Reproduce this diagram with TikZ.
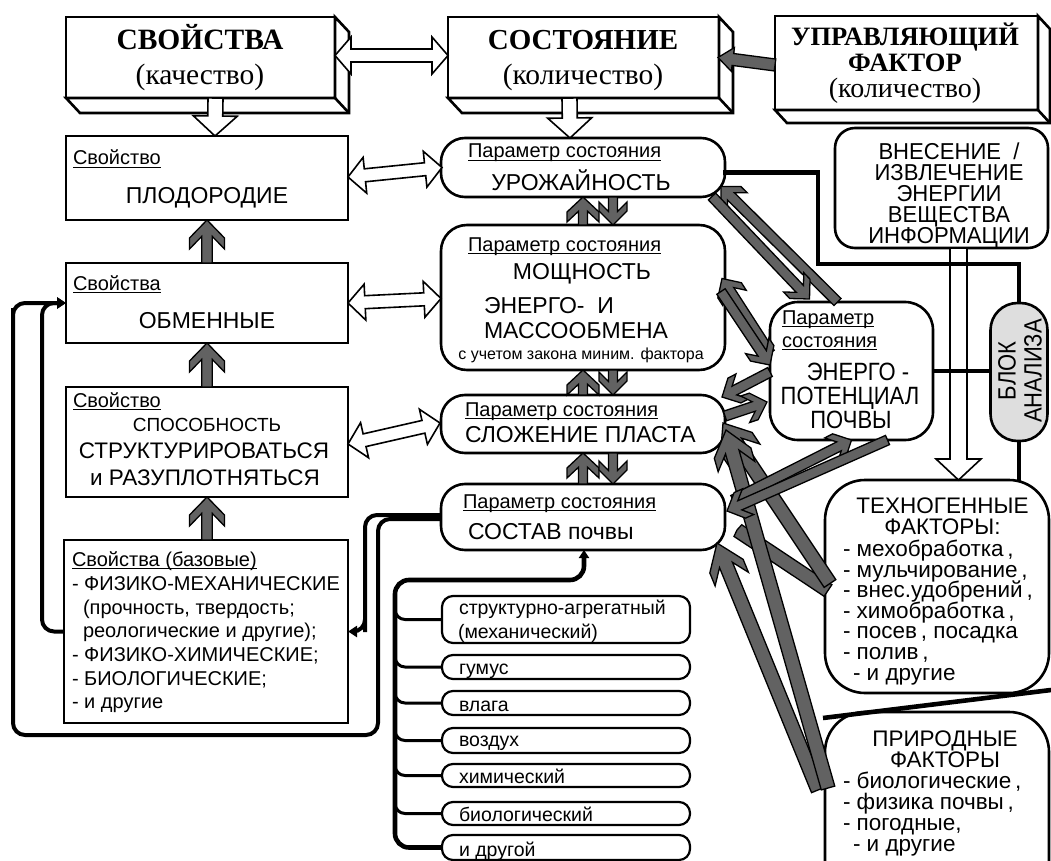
\documentclass[tikz,border=0pt]{standalone}
\usepackage{fontspec}
\setmainfont{Liberation Sans}
\newfontfamily\tnr{Liberation Serif}
\newfontfamily\nsans[FakeStretch=0.88]{Liberation Sans}
\newfontfamily\vsans[FakeStretch=0.96]{Liberation Sans}
\usetikzlibrary{calc,arrows.meta}
\definecolor{ag}{RGB}{98,98,98}
\newcommand\ulin[1]{\setbox0\hbox{#1}\leavevmode\rlap{\rule[-3pt]{\wd0}{1.3pt}}\box0}
\newcommand\fsz[2]{\fontsize{#1}{#2}\selectfont}
% centred lines set at a fixed baseline distance (#1); the baseline is that of the last line
\newcommand\tightstack[2]{\vbox{\baselineskip=#1\relax\lineskiplimit=-100pt\relax\lineskip=0pt\relax
  \halign{\hfil##\hfil\cr #2\cr}}}

\tikzset{
  every node/.style={inner sep=0pt, outer sep=0pt},
  boxframe/.style={draw, line width=2.6pt, fill=white},
  rbox/.style={boxframe, rounded corners=#1},
  rbox/.default=24pt,
  bev/.style={draw, line width=2.6pt, fill=white, line join=miter},
  connline/.style={draw, line width=4.6pt},
  loopline/.style={draw, line width=4pt, rounded corners=12pt},
  treeline/.style={draw, line width=4.6pt, rounded corners=14pt},
  branchline/.style={draw, line width=3pt, rounded corners=10pt},
  harr/.style={fill=white, draw=black, line width=1.6pt, line join=miter},
  garr/.style={fill=ag, draw=black, line width=1.3pt, line join=miter},
  ageom/.code n args={4}{\def\aSW{#1}\def\aHW{#2}\def\aHL{#3}\def\aD{#4}},
  % arrow with an open chevron head
  chevarrow/.style={to path={
    let \p1=(\tikztostart), \p2=(\tikztotarget),
        \n1={atan2(\y2-\y1,\x2-\x1)}, \n2={veclen(\x2-\x1,\y2-\y1)},
        \n3={\n2-\aHL}, \n4={\n2-\aHL-\aD}, \n5={\n2-\aD-\aHL*\aSW/\aHW}
    in ($(\p1)+({\n1+90}:\aSW pt)$)
    -- ($(\p1)+(\n1:\n5)+({\n1+90}:\aSW pt)$)
    -- ($(\p1)+(\n1:\n4)+({\n1+90}:\aHW pt)$)
    -- ($(\p1)+(\n1:\n3)+({\n1+90}:\aHW pt)$)
    -- (\p2)
    -- ($(\p1)+(\n1:\n3)+({\n1-90}:\aHW pt)$)
    -- ($(\p1)+(\n1:\n4)+({\n1-90}:\aHW pt)$)
    -- ($(\p1)+(\n1:\n5)+({\n1-90}:\aSW pt)$)
    -- ($(\p1)+({\n1-90}:\aSW pt)$) -- cycle}},
  % block arrow with a triangular head
  blockarrow/.style={to path={
    let \p1=(\tikztostart), \p2=(\tikztotarget),
        \n1={atan2(\y2-\y1,\x2-\x1)}, \n2={veclen(\x2-\x1,\y2-\y1)},
        \n3={\n2-\aHL}
    in ($(\p1)+({\n1+90}:\aSW pt)$)
    -- ($(\p1)+(\n1:\n3)+({\n1+90}:\aSW pt)$)
    -- ($(\p1)+(\n1:\n3)+({\n1+90}:\aHW pt)$)
    -- (\p2)
    -- ($(\p1)+(\n1:\n3)+({\n1-90}:\aHW pt)$)
    -- ($(\p1)+(\n1:\n3)+({\n1-90}:\aSW pt)$)
    -- ($(\p1)+({\n1-90}:\aSW pt)$) -- cycle}},
  % two-headed block arrow
  dblarrow/.style={to path={
    let \p1=(\tikztostart), \p2=(\tikztotarget),
        \n1={atan2(\y2-\y1,\x2-\x1)}, \n2={veclen(\x2-\x1,\y2-\y1)},
        \n3={\n2-\aHL}
    in ($(\p1)+(\n1:\aHL pt)+({\n1+90}:\aSW pt)$)
    -- ($(\p1)+(\n1:\n3)+({\n1+90}:\aSW pt)$)
    -- ($(\p1)+(\n1:\n3)+({\n1+90}:\aHW pt)$)
    -- (\p2)
    -- ($(\p1)+(\n1:\n3)+({\n1-90}:\aHW pt)$)
    -- ($(\p1)+(\n1:\n3)+({\n1-90}:\aSW pt)$)
    -- ($(\p1)+(\n1:\aHL pt)+({\n1-90}:\aSW pt)$)
    -- ($(\p1)+(\n1:\aHL pt)+({\n1-90}:\aHW pt)$)
    -- (\p1)
    -- ($(\p1)+(\n1:\aHL pt)+({\n1+90}:\aHW pt)$) -- cycle}},
  lbl/.style={font=\fsz{20}{24}},
  big/.style={font=\fsz{23}{26}},
  side/.style={font=\nsans\fsz{25}{26}},
  fac/.style={font=\fsz{22.5}{24}},
  small/.style={font=\fsz{19.5}{22}},
}

\begin{document}
\begin{tikzpicture}[x=1pt,y=-1pt]
\clip (0,0) rectangle (1051,861);
\fill[white] (0,0) rectangle (1051,861);

% ---------- top row: bevelled boxes ----------
\node[boxframe, minimum width=269pt, minimum height=81pt] (sv) at (200.5,57.5) {};
\node[boxframe, minimum width=271pt, minimum height=81pt] (so) at (583.5,57.5) {};
\node[boxframe, minimum width=263pt, minimum height=94pt] (uf) at (906.5,63) {};
\foreach \b/\dx/\dy in {sv/14/15, so/14/15, uf/12/13}{
  \draw[bev] (\b.north east) -- ++(\dx,\dy) -- ($(\b.south east)+(\dx,\dy)$)
     -- ($(\b.south west)+(\dx,\dy)$) -- (\b.south west) -- (\b.south east) -- cycle;
  \draw[bev] (\b.south east) -- ++(\dx,\dy);
}
\node[anchor=base, font=\tnr\bfseries\fsz{29.5}{30}] (svA) at (200,50) {СВОЙСТВА};
\node[anchor=base, font=\tnr\fsz{29.5}{30}] (svB) at (200,85) {(качество)};
\node[anchor=base, font=\tnr\bfseries\fsz{29}{30}] (soA) at (583,50) {СОСТОЯНИЕ};
\node[anchor=base, font=\tnr\fsz{29.5}{30}] (soB) at (583,85) {(количество)};
\node[anchor=base, font=\tnr\fsz{28}{30}] (ufT) at (905,98)
  {\tightstack{26pt}{{\bfseries\fontsize{26.5}{28}\selectfont УПРАВЛЯЮЩИЙ}\cr
   {\bfseries\fontsize{26.5}{28}\selectfont ФАКТОР}\cr (количество)}};

% ---------- left column ----------
\node[boxframe, minimum width=282pt, minimum height=84pt] (pl) at (207,178) {};
\node[boxframe, minimum width=282pt, minimum height=80pt] (ob) at (207,303) {};
\node[boxframe, minimum width=282pt, minimum height=110pt] (sp) at (207,442) {};
\node[boxframe, minimum width=284pt, minimum height=183pt] (bz) at (206,631.5) {};

\node[lbl, anchor=base west] (plL) at (73,165) {\ulin{Свойство}};
\node[big, anchor=base] (plT) at (207,203) {ПЛОДОРОДИЕ};
\node[lbl, anchor=base west] (obL) at (73,290) {\ulin{Свойства}};
\node[big, anchor=base] (obT) at (207,328) {ОБМЕННЫЕ};
\node[lbl, anchor=base west] (spL) at (73,407) {\ulin{Свойство}};
\node[anchor=base, font=\fsz{19}{22}] (spT1) at (207,431) {СПОСОБНОСТЬ};
\node[anchor=base, font=\fsz{22.5}{26}] (spT2) at (204,458) {СТРУКТУРИРОВАТЬСЯ};
\node[anchor=base, font=\fsz{22.5}{26}] (spT3) at (205,485) {и РАЗУПЛОТНЯТЬСЯ};

\node[lbl, anchor=base west] (bz1) at (72,566) {\ulin{Свойства (базовые)}};
\node[lbl, anchor=base west] (bz2) at (72,590) {- ФИЗИКО-МЕХАНИЧЕСКИЕ};
\node[lbl, anchor=base west] (bz3) at (83,614) {(прочность, твердость;};
\node[lbl, anchor=base west] (bz4) at (83,637.5) {реологические и другие);};
\node[lbl, anchor=base west] (bz5) at (72,661) {- ФИЗИКО-ХИМИЧЕСКИЕ;};
\node[lbl, anchor=base west] (bz6) at (72,685) {- БИОЛОГИЧЕСКИЕ;};
\node[lbl, anchor=base west] (bz7) at (72,708.5) {- и другие};

% ---------- centre column ----------
\node[rbox=24pt, minimum width=284pt, minimum height=59pt] (uro) at (583,167.5) {};
\node[rbox=26pt, minimum width=284pt, minimum height=145pt] (mo) at (583,297.5) {};
\node[rbox=24pt, minimum width=284pt, minimum height=58pt] (sl) at (583,424) {};
\node[rbox=24pt, minimum width=284pt, minimum height=66pt] (st) at (583,517) {};

\node[lbl, anchor=base west] (uroL) at (468,158) {\ulin{Параметр состояния}};
\node[big, anchor=base] (uroT) at (581,190) {УРОЖАЙНОСТЬ};
\node[lbl, anchor=base west] (moL) at (468,251) {\ulin{Параметр состояния}};
\node[big, anchor=base] (moT1) at (582,279) {МОЩНОСТЬ};
\node[big, anchor=base west] (moT2) at (484,313) {ЭНЕРГО-~~И};
\node[big, anchor=base west] (moT3) at (484,338) {МАССООБМЕНА};
\node[anchor=base, font=\fsz{16}{18}] (moT4) at (581,359) {с учетом закона миним. фактора};
\node[lbl, anchor=base west] (slL) at (465,416) {\ulin{Параметр состояния}};
\node[big, anchor=base west] (slT) at (465,442) {СЛОЖЕНИЕ ПЛАСТА};
\node[lbl, anchor=base west] (stL) at (463,508) {\ulin{Параметр состояния}};
\node[big, anchor=base west] (stT) at (468,539) {СОСТАВ почвы};

% ---------- soil composition list ----------
\node[rbox=11pt, line width=2.2pt, minimum width=248pt, minimum height=47pt, anchor=north west] (sb1) at (442,596) {};
\node[rbox=11pt, line width=2.2pt, minimum width=248pt, minimum height=24pt, anchor=north west] (sb2) at (442,655) {};
\node[rbox=11pt, line width=2.2pt, minimum width=248pt, minimum height=24pt, anchor=north west] (sb3) at (442,691) {};
\node[rbox=11pt, line width=2.2pt, minimum width=248pt, minimum height=25pt, anchor=north west] (sb4) at (442,728) {};
\node[rbox=11pt, line width=2.2pt, minimum width=248pt, minimum height=23pt, anchor=north west] (sb5) at (442,764) {};
\node[rbox=11pt, line width=2.2pt, minimum width=248pt, minimum height=23pt, anchor=north west] (sb6) at (442,802) {};
\node[rbox=11pt, line width=2.2pt, minimum width=248pt, minimum height=25pt, anchor=north west] (sb7) at (442,835) {};
\node[small, anchor=base west] (sb1a) at (459,614) {структурно-агрегатный};
\node[small, anchor=base west] (sb1b) at (458,638) {(механический)};
\node[small, anchor=base west] (sb2t) at (459,674) {гумус};
\node[small, anchor=base west] (sb3t) at (459,711) {влага};
\node[small, anchor=base west] (sb4t) at (459,746) {воздух};
\node[small, anchor=base west] (sb5t) at (459,783) {химический};
\node[small, anchor=base west] (sb6t) at (459,821) {биологический};
\node[small, anchor=base west] (sb7t) at (459,856) {и другой};

% ---------- right column ----------
\node[rbox=28pt, minimum width=163pt, minimum height=138pt] (en) at (851.5,371) {};
\node[rbox=20pt, minimum width=213pt, minimum height=120pt] (vn) at (941.5,188) {};
\node[draw, line width=2.6pt, fill=black!13, rounded corners=27pt, minimum width=57pt, minimum height=138pt] (bl) at (1019,372) {};
\node[rbox=40pt, minimum width=224pt, minimum height=213pt] (te) at (937,586.5) {};
\node[rbox=40pt, minimum width=224pt, minimum height=190pt] (pr) at (937,807) {};

\node[lbl, anchor=base west] (enL1) at (782,324) {\ulin{Параметр}};
\node[lbl, anchor=base west] (enL2) at (782,347) {\ulin{состояния}};
\node[side, anchor=base] (enT1) at (858,380) {ЭНЕРГО -};
\node[side, anchor=base] (enT2) at (850,404) {ПОТЕНЦИАЛ};
\node[side, anchor=base] (enT3) at (851,428) {ПОЧВЫ};

\node[anchor=base, font=\vsans\fsz{23}{21}] (vnT) at (949,243)
  {\tightstack{21pt}{ВНЕСЕНИЕ~~/\cr ИЗВЛЕЧЕНИЕ\cr ЭНЕРГИИ\cr ВЕЩЕСТВА\cr ИНФОРМАЦИИ}};

\node[side, rotate=90, align=center] (blT) at (1020,371) {БЛОК\\АНАЛИЗА};

\node[fac, anchor=base] (teH) at (942.5,534) {\tightstack{21pt}{ТЕХНОГЕННЫЕ\cr ФАКТОРЫ:}};
\node[fac, anchor=base west] (teL1) at (843,556) {- мехобработка\,,};
\node[fac, anchor=base west] (teL2) at (843,577) {- мульчирование\,,};
\node[fac, anchor=base west] (teL3) at (843,597.5) {- внес.удобрений\,,};
\node[fac, anchor=base west] (teL4) at (843,618) {- химобработка\,,};
\node[fac, anchor=base west] (teL5) at (843,638.5) {- посев\,, посадка};
\node[fac, anchor=base west] (teL6) at (843,659) {- полив\,,};
\node[fac, anchor=base west] (teL7) at (853,680) {- и другие};

\node[fac, anchor=base] (prH) at (945,767) {\tightstack{21pt}{ПРИРОДНЫЕ\cr ФАКТОРЫ}};
\node[fac, anchor=base west] (prL1) at (843,788) {- биологические\,,};
\node[fac, anchor=base west] (prL2) at (843,809) {- физика почвы\,,};
\node[fac, anchor=base west] (prL3) at (843,830) {- погодные,};
\node[fac, anchor=base west] (prL4) at (853,851) {- и другие};

% ---------- black connectors ----------
\draw[connline] ($(uro.east)+(-2,5)$) -| (818,264) -| (bl.north);
\draw[connline] (bl.south) -- ($(bl.south |- te.north)+(0,2)$);
\coordinate (slA) at (823,718);
\coordinate (slB) at (1051,690);
\draw[connline] (slA) -- (slB);

\draw[loopline, -{Triangle[length=9pt,width=11pt]}] (bz.west) -- ++(-22,0) |- (ob.west);
\draw[loopline, -{Triangle[length=9pt,width=11pt]}] ($(st.west)+(0,2)$) -| (378,735) -| (13,320) |- (ob.west);
\draw[loopline, -{Triangle[length=9pt,width=11pt]}] ($(st.west)+(0,-2)$) -| (365,620) |- (bz.east);

\coordinate (tk) at (395,580);
\draw[treeline, {Triangle[length=8pt,width=10pt]}-] ($(st.south)+(1,0)$) |- (tk) |- (sb7.west);
\foreach \s in {sb1,sb2,sb3,sb4,sb5,sb6}
  \draw[branchline] ($(\s.west)+(-47,-14)$) |- (\s.west);

% ---------- hollow arrows ----------
\draw[harr, ageom={6.5}{18.5}{16}{0}, dblarrow] ($(sv.east)+(0,-2)$) to ($(so.west)+(0,-2)$);
\draw[harr, ageom={7.5}{22}{20}{0}, blockarrow] ($(sv.south)+(15,0)$) to ($(pl.north)+(8,0)$);
\draw[harr, ageom={7.5}{22}{20}{0}, blockarrow] ($(so.south)+(-14,0)$) to ($(uro.north)+(-13,0)$);
\draw[harr, ageom={6.5}{18}{17}{0}, dblarrow] ($(pl.east)+(0,-1)$) to ($(uro.west)+(1,0)$);
\draw[harr, ageom={6.5}{18}{17}{0}, dblarrow] (ob.east) to ($(mo.west)+(0,1)$);
\draw[harr, ageom={6.5}{18}{17}{0}, dblarrow] ($(sp.east)+(0,2)$) to ($(sl.west)+(-1,-1)$);
\draw[harr, ageom={8.5}{22.5}{21}{0}, blockarrow] ($(vn.south)+(17,0)$) to ($(te.north)+(21.5,0)$);
\draw[connline] (en.east) -- (bl.west |- en.east);
\draw[connline] (818,264) -- (bl.north |- 0,264);

% ---------- grey arrows ----------
\draw[garr, ageom={6}{12}{15}{0}, blockarrow] ($(uf.west)+(0,2)$) to ($(so.east)+(-1,0)$);

\draw[garr, ageom={5.3}{17.5}{18}{11}, chevarrow] (ob.north) to (pl.south);
\draw[garr, ageom={5.3}{17.5}{18}{11}, chevarrow] (sp.north) to (ob.south);
\draw[garr, ageom={5.3}{17.5}{18}{11}, chevarrow] ($(bz.north)+(1,0)$) to (sp.south);

\foreach \u/\l in {uro/mo, mo/sl, sl/st}{
  \draw[garr, ageom={4.5}{16}{15}{10}, chevarrow] (\l.north) to (\u.south);
  \draw[garr, ageom={4.5}{14}{14}{9}, chevarrow] ($(\u.south)+(30,0)$) to ($(\l.north)+(30,0)$);
}

% wide bands from the factor boxes
\draw[garr, ageom={7}{7}{1}{0}, blockarrow] ($(te.west)+(3,4)$) to ($(st.east)+(12,13)$);
\draw[garr, ageom={7}{19}{24}{14}, chevarrow] ($(te.west)+(5,-3)$) to ($(sl.east)+(-2,-1)$);
\draw[garr, ageom={7}{18}{25}{14}, chevarrow] ($(pr.west)+(-7,-17)$) to ($(st.east)+(-8,26)$);
\draw[garr, ageom={7}{19}{24}{14}, chevarrow] ($(pr.west)+(3,-19)$) to ($(sl.east)+(1,6)$);

% paired arrows between the centre boxes and the energy potential
\draw[garr, ageom={5}{14}{14}{9}, chevarrow] ($(en.north)+(-14,0)$) to ($(uro.east)+(-4,19)$);
\draw[garr, ageom={5}{14}{14}{9}, chevarrow] ($(uro.east)+(-13,29)$) to ($(en.north)+(-42,-3)$);
\draw[garr, ageom={5}{14}{14}{9}, chevarrow] ($(en.west)+(0,-18)$) to ($(mo.east)+(-3,-19)$);
\draw[garr, ageom={5}{14}{14}{9}, chevarrow] ($(mo.east)+(-4,-6)$) to ($(en.west)+(0,-6)$);
\draw[garr, ageom={5}{14}{14}{9}, chevarrow] ($(en.west)+(0,1)$) to ($(sl.east)+(-3,-27)$);
\draw[garr, ageom={5}{14}{14}{9}, chevarrow] ($(sl.east)+(0,-8)$) to ($(en.west)+(-3,31)$);
\draw[garr, ageom={5}{14}{14}{9}, chevarrow] ($(st.east)+(8,-17)$) to (en.south);
\draw[garr, ageom={5}{14}{14}{9}, chevarrow] ($(en.south)+(36,0)$) to ($(st.east)+(2,-6)$);
\end{tikzpicture}
\end{document}
